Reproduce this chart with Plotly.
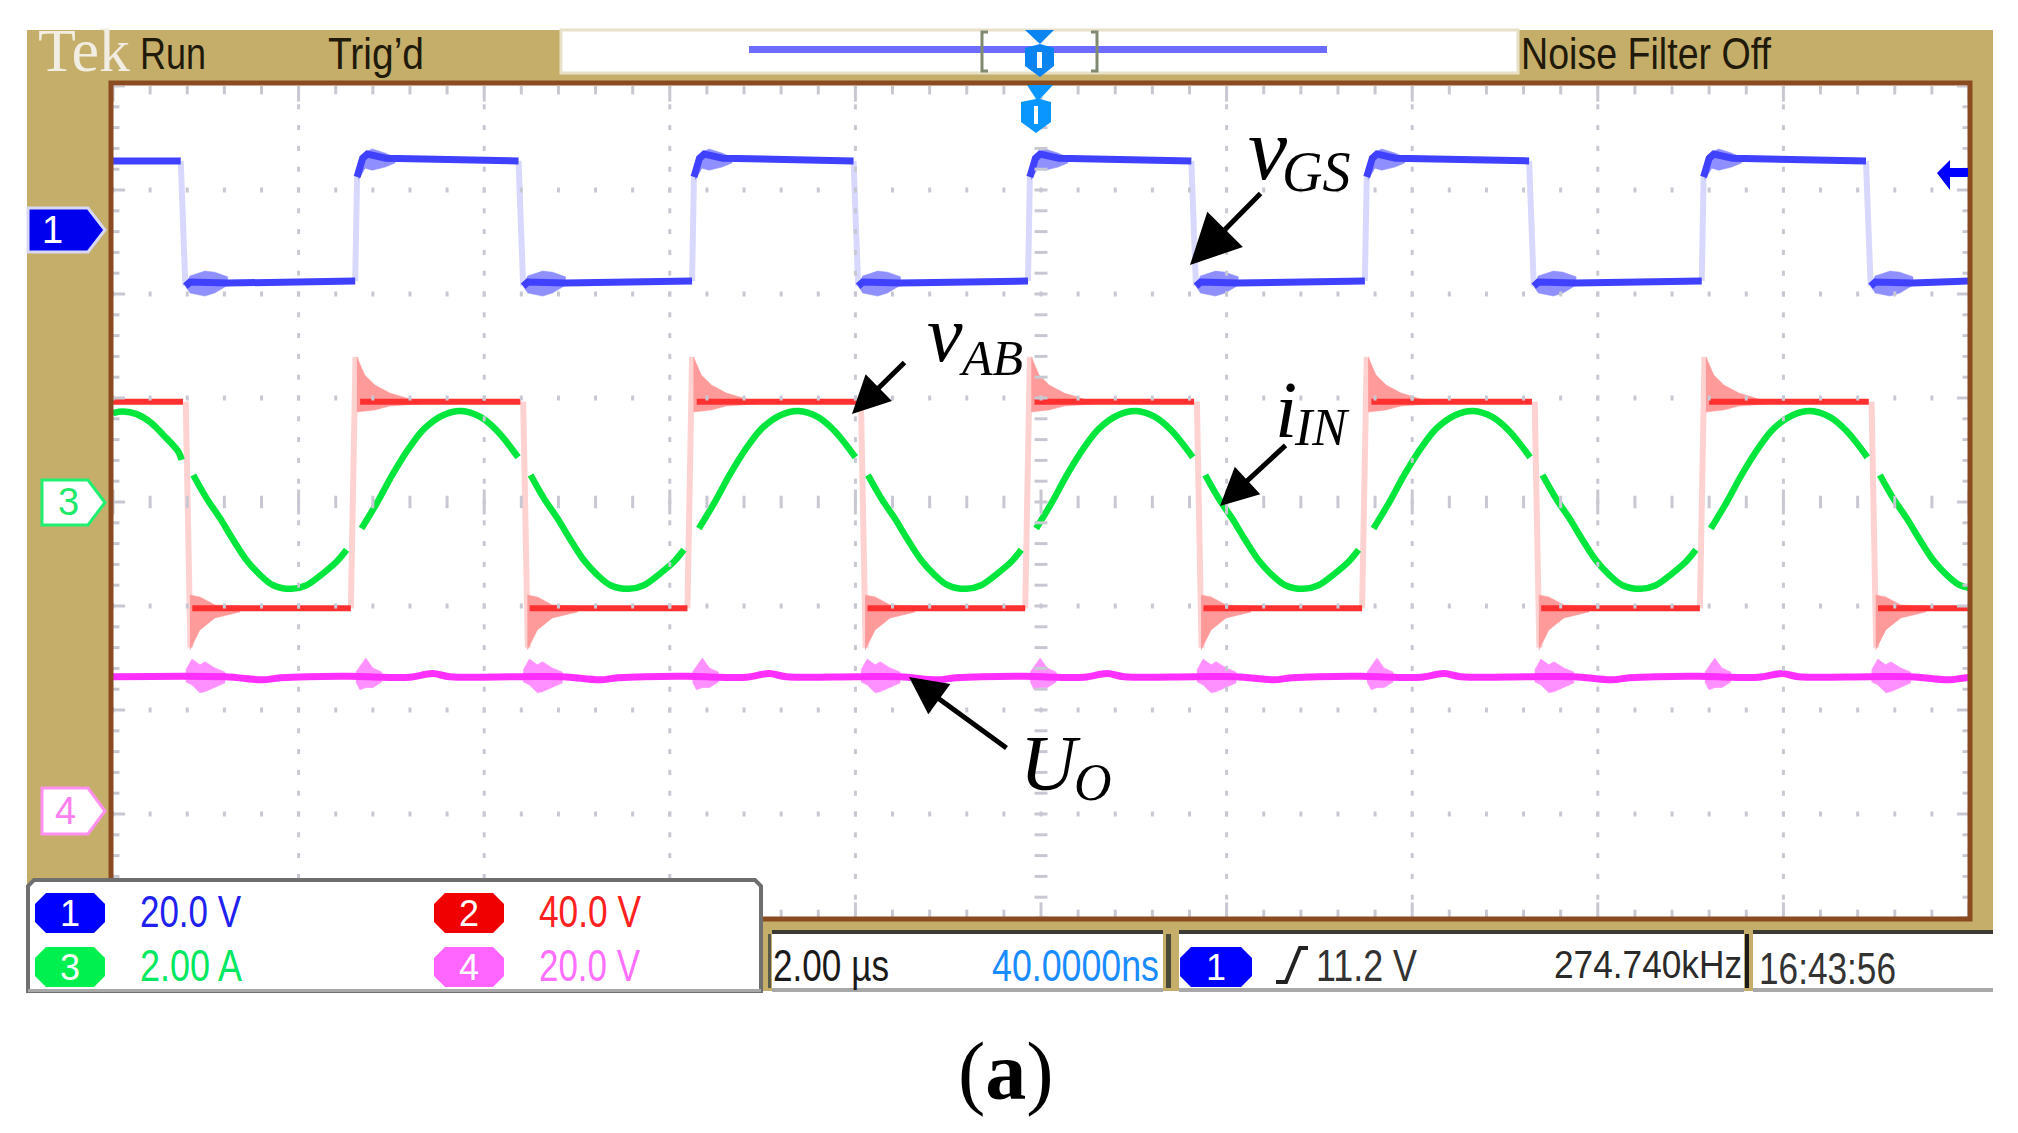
import json
import plotly.graph_objects as go

# ---- Oscilloscope settings ----
US_PER_DIV = 2.0
CH1_V_PER_DIV, CH1_POS_DIV = 20.0, 2.615
CH2_V_PER_DIV, CH2_POS_DIV = 40.0, 0.0
CH3_A_PER_DIV, CH3_POS_DIV = 2.0, 0.0
CH4_V_PER_DIV, CH4_POS_DIV = 20.0, -2.96

# ---- Switching edges (microseconds) ----
BLUE_FALL = [0.73, 4.37, 7.98, 11.62, 15.26, 18.89]
BLUE_RISE = [2.61, 6.24, 9.86, 13.49, 17.12]
RED_FALL = [0.754, 4.39, 8.03, 11.65, 15.29, 18.92]
RED_RISE = [2.563, 6.19, 9.83, 13.46, 17.10]

# ---- Levels and ringing shapes ----
BLUE_HIGH_OFFS = [0.02, 0.08, 0.13, 0.33]
BLUE_HIGH_V = [10.2, 13.8, 14.6, 13.8]
BLUE_HIGH_END_V = 13.3
BLUE_LOW_OFFS = [0.05, 0.10, 0.50]
BLUE_LOW_V = [-10.8, -10.0, -10.2]
BLUE_LOW_END_V = -9.8
BLUE_RING_LOW_OFFS = [0.054, 0.097, 0.26, 0.366, 0.506, 0.506, 0.366, 0.26, 0.097]
BLUE_RING_LOW_V = [-11.0, -8.85, -7.9, -8.1, -9.0, -10.6, -12.1, -12.7, -12.1]
BLUE_RING_HIGH_OFFS = [0.032, 0.108, 0.183, 0.323, 0.43, 0.43, 0.323, 0.183, 0.108, 0.032]
BLUE_RING_HIGH_V = [10.6, 15.0, 15.6, 14.8, 14.0, 12.9, 12.1, 11.5, 11.9, 9.6]

RED_HIGH_V = 38.6
RED_LOW_V = -40.9
RED_RING_HIGH_OFFS = [0.065, 0.15, 0.258, 0.42, 0.635, 0.743, 0.42, 0.258, 0.065]
RED_RING_HIGH_V = [55.8, 48.8, 45.0, 41.9, 39.6, 37.7, 36.9, 35.4, 34.6]
RED_RING_LOW_OFFS = [0.075, 0.183, 0.345, 0.614, 0.614, 0.345, 0.183, 0.075]
RED_RING_LOW_V = [-35.8, -36.5, -39.6, -40.0, -42.3, -44.6, -49.2, -56.9]

# Input current, read along each visible arc; None marks the gaps at the edges
GREEN_T = [
    0.0, 0.111, 0.255, 0.398, 0.542, 0.703, 0.74, None,
    0.865, 1.009, 1.152, 1.296, 1.44, 1.583, 1.726, 1.925, 2.086, 2.265, 2.409, 2.517, None,
    2.678, 2.84, 3.019, 3.199, 3.36, 3.557, 3.755, 3.953, 4.133, 4.365, None,
    4.5, 4.644, 4.787, 4.931, 5.075, 5.218, 5.361, 5.56, 5.721, 5.9, 6.044, 6.152, None,
    6.313, 6.475, 6.654, 6.834, 6.995, 7.192, 7.39, 7.588, 7.768, 8.0, None,
    8.135, 8.279, 8.422, 8.566, 8.71, 8.853, 8.996, 9.195, 9.356, 9.535, 9.679, 9.787, None,
    9.948, 10.11, 10.289, 10.469, 10.63, 10.827, 11.025, 11.223, 11.403, 11.635, None,
    11.77, 11.914, 12.057, 12.201, 12.345, 12.488, 12.631, 12.83, 12.991, 13.17, 13.314, 13.422, None,
    13.583, 13.745, 13.924, 14.104, 14.265, 14.462, 14.66, 14.858, 15.038, 15.27, None,
    15.405, 15.549, 15.692, 15.836, 15.98, 16.123, 16.266, 16.465, 16.626, 16.805, 16.949, 17.057, None,
    17.218, 17.38, 17.559, 17.739, 17.9, 18.097, 18.295, 18.493, 18.673, 18.905, None,
    19.04, 19.184, 19.327, 19.471, 19.615, 19.758, 19.901, 20.0,
]
GREEN_A = [
    1.71, 1.74, 1.69, 1.54, 1.29, 0.97, 0.81, None,
    0.52, 0.07, -0.31, -0.73, -1.12, -1.40, -1.60, -1.67, -1.60, -1.37, -1.15, -0.92, None,
    -0.51, -0.03, 0.55, 1.06, 1.42, 1.67, 1.75, 1.64, 1.38, 0.86, None,
    0.52, 0.07, -0.31, -0.73, -1.12, -1.40, -1.60, -1.67, -1.60, -1.37, -1.15, -0.92, None,
    -0.51, -0.03, 0.55, 1.06, 1.42, 1.67, 1.75, 1.64, 1.38, 0.86, None,
    0.52, 0.07, -0.31, -0.73, -1.12, -1.40, -1.60, -1.67, -1.60, -1.37, -1.15, -0.92, None,
    -0.51, -0.03, 0.55, 1.06, 1.42, 1.67, 1.75, 1.64, 1.38, 0.86, None,
    0.52, 0.07, -0.31, -0.73, -1.12, -1.40, -1.60, -1.67, -1.60, -1.37, -1.15, -0.92, None,
    -0.51, -0.03, 0.55, 1.06, 1.42, 1.67, 1.75, 1.64, 1.38, 0.86, None,
    0.52, 0.07, -0.31, -0.73, -1.12, -1.40, -1.60, -1.67, -1.60, -1.37, -1.15, -0.92, None,
    -0.51, -0.03, 0.55, 1.06, 1.42, 1.67, 1.75, 1.64, 1.38, 0.86, None,
    0.52, 0.07, -0.31, -0.73, -1.12, -1.40, -1.60, -1.65,
]

PINK_AFTER_FALL_OFFS = [0.452, 0.86, 1.05, 1.80]
PINK_AFTER_FALL_V = [25.6, 25.0, 25.4, 25.7]
PINK_AFTER_RISE_OFFS = [0.334, 0.636, 0.883, 1.066, 1.82]
PINK_AFTER_RISE_V = [25.5, 25.5, 26.2, 25.6, 25.6]
PINK_BURST_FALL_OFFS = [0.03, 0.097, 0.183, 0.237, 0.345, 0.452, 0.452, 0.345, 0.237, 0.183, 0.097, 0.03]
PINK_BURST_FALL_V = [26.9, 29.0, 27.9, 28.5, 27.3, 26.5, 24.4, 23.5, 22.7, 22.5, 24.0, 24.6]
PINK_BURST_RISE_OFFS = [0.054, 0.161, 0.237, 0.334, 0.334, 0.237, 0.161, 0.097, 0.054]
PINK_BURST_RISE_V = [26.5, 29.2, 27.3, 26.5, 24.6, 23.5, 23.5, 23.1, 24.6]

# ---- Readout texts ----
LABEL_CH1, LABEL_CH2, LABEL_CH3, LABEL_CH4 = "20.0 V", "40.0 V", "2.00 A", "20.0 V"
LABEL_TIMEBASE, LABEL_DELAY = "2.00 \u00b5s", "40.0000ns"
LABEL_TRIG, LABEL_FREQ, LABEL_CLOCK = "11.2 V", "274.740kHz", "16:43:56"

W, H = 2018, 1133
PLOT_L, PLOT_R, PLOT_T, PLOT_B = 113, 1969, 86, 918
TAN, BROWN = "#c5ae6a", "#8a4b20"
SANS = "Liberation Sans"
SERIF = "Liberation Serif"

# Widths the condensed scope lettering occupies in the picture
CONDENSED = {
    "Run": 66, "Trig\u2019d": 96, "Noise Filter Off": 250,
    LABEL_CH1: 101, LABEL_CH2: 102, LABEL_CH3: 102,
    LABEL_TIMEBASE: 116, LABEL_DELAY: 167, LABEL_TRIG: 101, LABEL_FREQ: 188, LABEL_CLOCK: 137,
}


def X(p):
    return p / W


def Y(p):
    return 1 - p / H


def yrange(scale, pos):
    return [(-4 - pos) * scale, (4 - pos) * scale]


def shifted(edges, offs, vals):
    xs, ys = [], []
    for e in edges:
        xs += [e + o for o in offs] + [None]
        ys += list(vals) + [None]
    return xs, ys


fig = go.Figure()


def add(x, y, axis="y", color="#000", width=2, fill=None, fillcolor=None, shape="linear"):
    fig.add_trace(go.Scatter(
        x=x, y=y, yaxis=axis, mode="lines",
        line=dict(color=color, width=width, shape=shape),
        fill=fill, fillcolor=fillcolor, hoverinfo="skip", showlegend=False))


# graticule, in divisions on its own axis
gx, gy = [], []
for i in range(51):
    t = i * 0.4
    major = i % 5 == 0
    gx += [t, t, None, t, t, None]
    gy += [4, 4 - (0.15 if major else 0.08), None, -4, -4 + (0.15 if major else 0.08), None]
    for yd in range(-4, 5):
        if yd in (-4, 4):
            continue
        half = 0.024 if yd else (0.12 if major else 0.06)
        gx += [t, t, None]
        gy += [yd - half, yd + half, None]
for i in range(41):
    d = -4 + i * 0.2
    major = i % 5 == 0
    ln = 0.13 if major else 0.07
    gx += [0, ln, None, 20 - ln, 20, None]
    gy += [d, d, None, d, d, None]
    for k in range(1, 10):
        t = k * US_PER_DIV
        if k == 5:
            gx += [t - 0.07, t + 0.07, None]
            gy += [d, d, None]
        else:
            gx += [t, t, None]
            gy += [d - 0.024, d + 0.024, None]
add(gx, gy, axis="y5", color="#c8c8d2", width=3)

# channel 1 (gate voltage)
bx, by = [0.0, BLUE_FALL[0]], [BLUE_HIGH_END_V, BLUE_HIGH_END_V]
fx, fy = [], []
for i, f in enumerate(BLUE_FALL):
    bx.append(None)
    by.append(None)
    fx += [f, f + 0.05, None]
    fy += [BLUE_HIGH_END_V, BLUE_LOW_V[0], None]
    bx += [f + o for o in BLUE_LOW_OFFS]
    by += BLUE_LOW_V
    if i < len(BLUE_RISE):
        r = BLUE_RISE[i]
        bx += [r, None]
        by += [BLUE_LOW_END_V, None]
        fx += [r, r + 0.02, None]
        fy += [BLUE_LOW_END_V, BLUE_HIGH_V[0], None]
        bx += [r + o for o in BLUE_HIGH_OFFS]
        by += BLUE_HIGH_V
        bx += [BLUE_FALL[i + 1]]
        by += [BLUE_HIGH_END_V]
    else:
        bx += [20.0]
        by += [BLUE_LOW_END_V]
add(fx, fy, color="#d8d8ff", width=6)
rx, ry = shifted(BLUE_FALL, BLUE_RING_LOW_OFFS, BLUE_RING_LOW_V)
add(rx, ry, width=0.5, color="#8f8fff", fill="toself", fillcolor="#8f8fff")
rx, ry = shifted(BLUE_RISE, BLUE_RING_HIGH_OFFS, BLUE_RING_HIGH_V)
add(rx, ry, width=0.5, color="#8f8fff", fill="toself", fillcolor="#8f8fff")
add(bx, by, color="#4040ff", width=7)

# channel 2 (bridge voltage)
fx, fy, sx, sy = [], [], [0.0, RED_FALL[0], None], [RED_HIGH_V, RED_HIGH_V, None]
for i, f in enumerate(RED_FALL):
    fx += [f + 0.03, f + 0.08, None]
    fy += [RED_HIGH_V, -56.0, None]
    end = RED_RISE[i] if i < len(RED_RISE) else 20.0
    sx += [f + 0.1, end, None]
    sy += [RED_LOW_V, RED_LOW_V, None]
    if i < len(RED_RISE):
        fx += [end, end + 0.05, None]
        fy += [RED_LOW_V, 55.8, None]
        sx += [end + 0.1, RED_FALL[i + 1], None]
        sy += [RED_HIGH_V, RED_HIGH_V, None]
add(fx, fy, axis="y2", color="#ffd2d2", width=6)
rx, ry = shifted(RED_RISE, RED_RING_HIGH_OFFS, RED_RING_HIGH_V)
add(rx, ry, axis="y2", width=0.5, color="#ff9a9a", fill="toself", fillcolor="#ff9a9a")
rx, ry = shifted(RED_FALL, RED_RING_LOW_OFFS, RED_RING_LOW_V)
add(rx, ry, axis="y2", width=0.5, color="#ff9a9a", fill="toself", fillcolor="#ff9a9a")
add(sx, sy, axis="y2", color="#ff3030", width=6)

# channel 3 (input current)
add(GREEN_T, GREEN_A, axis="y3", color="#00e63c", width=6.5, shape="spline")

# channel 4 (output voltage)
rx, ry = shifted(RED_FALL, PINK_BURST_FALL_OFFS, PINK_BURST_FALL_V)
add(rx, ry, axis="y4", width=0.5, color="#ff90ff", fill="toself", fillcolor="#ff90ff")
rx, ry = shifted(RED_RISE, PINK_BURST_RISE_OFFS, PINK_BURST_RISE_V)
add(rx, ry, axis="y4", width=0.5, color="#ff90ff", fill="toself", fillcolor="#ff90ff")
px_, py_ = [0.0], [25.6]
for i, f in enumerate(RED_FALL):
    px_ += [f + o for o in PINK_AFTER_FALL_OFFS]
    py_ += PINK_AFTER_FALL_V
    if i < len(RED_RISE):
        px_ += [RED_RISE[i] + o for o in PINK_AFTER_RISE_OFFS]
        py_ += PINK_AFTER_RISE_V
add(px_, py_, axis="y4", color="#ff30ff", width=7, shape="spline")

# ---- screen furniture ----
shapes = []


def rect(x0, y0, x1, y1, fill=None, line=None, lw=0, layer="above"):
    shapes.append(dict(type="rect", xref="paper", yref="paper", x0=X(x0), x1=X(x1), y0=Y(y1), y1=Y(y0),
                       fillcolor=fill, line=dict(color=line or "rgba(0,0,0,0)", width=lw), layer=layer))


def poly(pts, fill=None, line=None, lw=0, closed=True):
    d = "M" + " L".join(f"{X(a):.5f},{Y(b):.5f}" for a, b in pts) + (" Z" if closed else "")
    shapes.append(dict(type="path", xref="paper", yref="paper", path=d, fillcolor=fill,
                       line=dict(color=line or "rgba(0,0,0,0)", width=lw), layer="above"))


def pill(x0, y0, x1, y1, fill):
    c = 11
    poly([(x0 + c, y0), (x1 - c, y0), (x1, y0 + c), (x1, y1 - c), (x1 - c, y1),
          (x0 + c, y1), (x0, y1 - c), (x0, y0 + c)], fill=fill)


def chan(x0, y0, x1, y1, fill, line):
    m = (y0 + y1) / 2
    poly([(x0, y0), (x1 - 17, y0), (x1, m), (x1 - 17, y1), (x0, y1)], fill=fill, line=line, lw=3)


rect(27, 30, 1993, 991, fill=TAN, layer="below")
rect(111, 84, 1970, 919, fill="#ffffff", layer="below")
rect(111, 83, 1970, 919, line=BROWN, lw=5)
# record view at the top
rect(561, 30, 1518, 73, fill="#ffffff", line="#e8e1c8", lw=3)
rect(749, 46, 1327, 53, fill="#6c6cff")
poly([(988, 32), (982, 32), (982, 71), (988, 71)], line="#7f8a70", lw=3, closed=False)
poly([(1091, 32), (1097, 32), (1097, 71), (1091, 71)], line="#7f8a70", lw=3, closed=False)
poly([(1025, 30), (1054, 30), (1040, 44), (1054, 48), (1054, 66), (1040, 77), (1025, 66), (1025, 48), (1040, 44)], fill="#0a84f0")
poly([(1027, 85), (1053, 85), (1040, 99), (1051, 102), (1051, 122), (1036, 133), (1021, 122), (1021, 102), (1036, 99)], fill="#0a96ff")
rect(1037, 52, 1042, 68, fill="#ffffff")
rect(1034, 106, 1038, 124, fill="#ffffff")
# trigger level arrow
poly([(1937, 173), (1950, 160), (1950, 168), (1968, 168), (1968, 177), (1950, 177), (1950, 190)], fill="#0000ff")
# channel markers
chan(28, 208, 105, 252, "#0000ee", "#d8d8f4")
chan(42, 480, 105, 525, "#ffffff", "#20f070")
chan(42, 788, 105, 834, "#ffffff", "#ff90f0")
# bottom readout panels
poly([(28, 991), (28, 886), (34, 880), (755, 880), (761, 886), (761, 991)], fill="#ffffff", line="#6f6f6f", lw=4)
rect(28, 989, 761, 992, fill="#a8a8a8")
for x0, x1 in [(772, 1163), (1179, 1744), (1753, 1993)]:
    rect(x0, 932, x1, 991, fill="#ffffff")
    rect(x0, 930, x1, 934, fill="#3a3a32")
    rect(x0, 988, x1, 992, fill="#a8a8a8")
rect(1745, 934, 1749, 988, fill="#1c1c1c")
rect(1166, 934, 1171, 988, fill="#4a4a3a")
rect(768, 934, 771, 988, fill="#5a5a4a")
pill(35, 893, 105, 933, "#0000ff")
pill(434, 893, 504, 933, "#f00000")
pill(35, 947, 105, 987, "#00f050")
pill(434, 947, 504, 987, "#ff66ff")
pill(1180, 947, 1252, 987, "#0000ff")
poly([(1276, 982), (1286, 982), (1300, 948), (1308, 948)], line="#222222", lw=4, closed=False)


annotations = []


def text(t, x, y, size, color, font=SANS, anchor="left"):
    annotations.append(dict(text=t, xref="paper", yref="paper", x=X(x), y=Y(y), xanchor=anchor, yanchor="middle",
                            align=anchor, showarrow=False, borderpad=0,
                            font=dict(family=font, size=size, color=color)))


text("Tek", 37, 50, 62, "#f1ede2", font=SERIF)
text("Run", 139, 53, 44, "#1f1a0a")
text("Trig\u2019d", 327, 53, 44, "#1f1a0a")
text("Noise Filter Off", 1520, 53, 44, "#1f1a0a")
text("1", 52, 230, 38, "#ffffff", anchor="center")
text("3", 68, 502, 38, "#20e868", anchor="center")
text("4", 65, 811, 38, "#ff80f0", anchor="center")
text(LABEL_CH1, 139, 911, 44, "#2020f0")
text(LABEL_CH2, 538, 911, 44, "#ff2020")
text(LABEL_CH3, 139, 965, 44, "#00e860")
text(LABEL_CH4, 538, 965, 44, "#ff70ff")
for x, y, s in [(70, 913, "1"), (469, 913, "2"), (70, 967, "3"), (469, 967, "4"), (1216, 967, "1")]:
    text(s, x, y, 36, "#ffffff", anchor="center")
text(LABEL_TIMEBASE, 772, 965, 44, "#1a1a1a")
text(LABEL_DELAY, 991, 965, 44, "#1a8cff")
text(LABEL_TRIG, 1315, 965, 44, "#333333")
text(LABEL_FREQ, 1553, 965, 38, "#2a2a2a")
text(LABEL_CLOCK, 1758, 968, 44, "#333333")

# figure annotations
text("<i>v</i>", 1247, 150, 88, "#000000", font=SERIF)
text("<i>GS</i>", 1281, 172, 56, "#000000", font=SERIF)
text("<i>v</i>", 926, 334, 80, "#000000", font=SERIF)
text("<i>AB</i>", 958, 358, 50, "#000000", font=SERIF)
text("<i>i</i>", 1274, 410, 80, "#000000", font=SERIF)
text("<i>IN</i>", 1293, 427, 52, "#000000", font=SERIF)
text("<i>U</i>", 1019, 762, 78, "#000000", font=SERIF)
text("<i>O</i>", 1073, 782, 52, "#000000", font=SERIF)
text("(<b>a</b>)", 1006, 1071, 82, "#000000", font=SERIF, anchor="center")

for (tx, ty, hx, hy, size) in [(1262, 192, 1190, 265, 2.0), (906, 361, 852, 414, 1.5),
                               (1287, 444, 1220, 506, 1.5), (1008, 749, 909, 677, 1.5)]:
    annotations.append(dict(text="", xref="paper", yref="paper", x=X(hx), y=Y(hy), ax=tx - hx, ay=ty - hy,
                            showarrow=True, arrowhead=2, arrowsize=size, arrowwidth=5, arrowcolor="#000000"))

hid = dict(visible=False, fixedrange=True)
ydom = [1 - PLOT_B / H, 1 - PLOT_T / H]
fig.update_layout(
    width=W, height=H, margin=dict(l=0, r=0, t=0, b=0, pad=0),
    paper_bgcolor="#ffffff", plot_bgcolor="rgba(0,0,0,0)", showlegend=False,
    shapes=shapes, annotations=annotations,
    xaxis=dict(range=[0, 10 * US_PER_DIV], domain=[PLOT_L / W, PLOT_R / W], **hid),
    yaxis=dict(range=yrange(CH1_V_PER_DIV, CH1_POS_DIV), domain=ydom, **hid),
    yaxis2=dict(range=yrange(CH2_V_PER_DIV, CH2_POS_DIV), domain=ydom, overlaying="y", **hid),
    yaxis3=dict(range=yrange(CH3_A_PER_DIV, CH3_POS_DIV), domain=ydom, overlaying="y", **hid),
    yaxis4=dict(range=yrange(CH4_V_PER_DIV, CH4_POS_DIV), domain=ydom, overlaying="y", **hid),
    yaxis5=dict(range=[-4, 4], domain=ydom, overlaying="y", **hid),
)
post = """
document.body.style.margin='0';document.body.style.overflow='hidden';
var narrow = %s;
function condense(){document.querySelectorAll('.annotation-text').forEach(function(t){
  var w = narrow[t.textContent];
  if (w) {t.setAttribute('lengthAdjust','spacingAndGlyphs');t.setAttribute('textLength',w);}
});}
condense();
""" % json.dumps(CONDENSED)
fig.write_html("out.html", config=dict(displayModeBar=False), post_script=post)
